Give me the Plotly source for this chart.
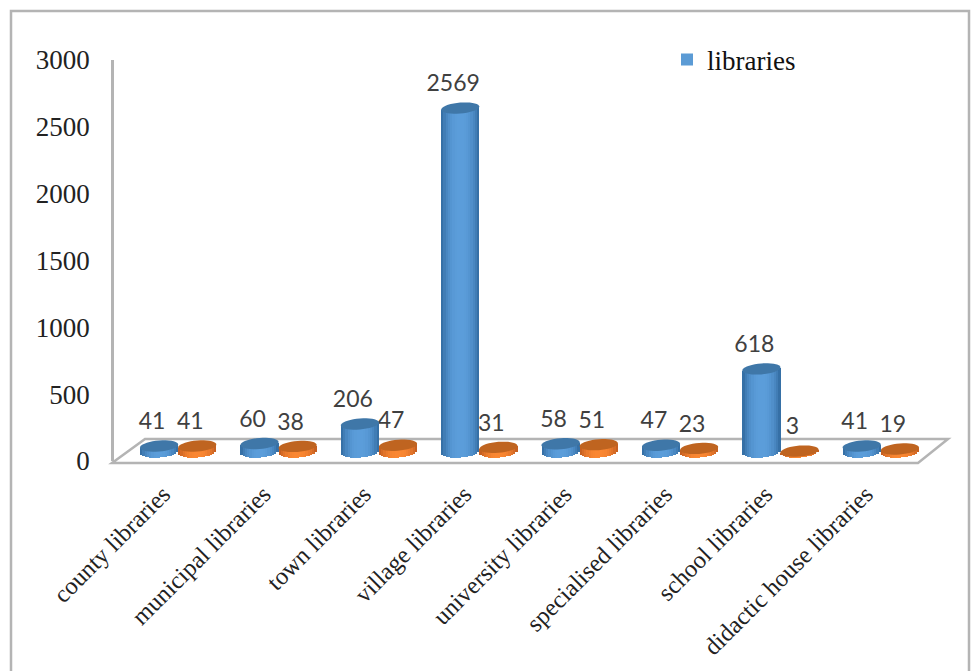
import math
import plotly.graph_objects as go

categories = ["county libraries", "municipal libraries", "town libraries", "village libraries",
              "university libraries", "specialised libraries", "school libraries", "didactic house libraries"]
libraries = [41, 60, 206, 2569, 58, 47, 618, 41]
second_series = [41, 38, 47, 31, 51, 23, 3, 19]
y_ticks = [0, 500, 1000, 1500, 2000, 2500, 3000]

W, H = 972, 671
PX_PER_UNIT_Y = 401 / 3000
HALF = 0.19
STRIPS = 17
B = 5.5 / PX_PER_UNIT_Y    # ellipse half height, in axis units
K = 1.5 / PX_PER_UNIT_Y    # ellipse tilt, in axis units
BELOW_ZERO = 150
BASE_PX = 451.5

COS = [math.cos(2 * math.pi * i / 36) for i in range(36)]
SIN = [math.sin(2 * math.pi * i / 36) for i in range(36)]


def px(v):
    return v / W


def py(v):
    return 1 - v / H


def mix(c1, c2, t):
    return "rgb(%d,%d,%d)" % tuple(round(a + (b - a) * t) for a, b in zip(c1, c2))


def ellipse(cx, cy, fill, layer):
    pts = [(cx + HALF * COS[i], cy + B * SIN[i] + K * COS[i]) for i in range(36)]
    path = "M " + " L ".join(f"{x:.4f},{y:.2f}" for x, y in pts) + " Z"
    return dict(type="path", path=path, xref="x", yref="y2", fillcolor=fill,
                line=dict(width=0), layer=layer)


fig = go.Figure()

series = [
    ("libraries", libraries, -HALF, (91, 157, 218), (48, 105, 158), "#3f77a8", "#5b9bd5", True),
    ("second series", second_series, HALF, (250, 135, 50), (190, 90, 30), "#bf6420", "#ed7d31", False),
]

shapes = [
    dict(type="rect", xref="paper", yref="paper", x0=px(11), x1=px(969), y0=py(11), y1=py(690),
         line=dict(color="#b4b4b4", width=2.5), fillcolor="white", layer="below"),
    dict(type="path", xref="paper", yref="paper",
         path=f"M {px(112)},{py(463)} L {px(918)},{py(463)} L {px(948)},{py(439)} L {px(145)},{py(439)} Z",
         line=dict(color="#b4b4b4", width=2.5), fillcolor="white", layer="below"),
]

label_x = []
label_y = []
label_t = []
for name, vals, off, *_ in series:
    for i, v in enumerate(vals):
        label_x.append(i + off - 0.07)
        label_y.append(v + 32 / PX_PER_UNIT_Y)
        label_t.append(str(v))

fig.add_trace(go.Scatter(x=label_x, y=label_y, text=label_t, mode="text", xaxis="x", yaxis="y",
                         textposition="middle center", showlegend=False, hoverinfo="skip",
                         textfont=dict(family="Lato", size=23, color="#404040")))

for name, vals, off, light, dark, top, solid, legend in series:
    xs = [i + off for i in range(len(vals))]
    fig.add_trace(go.Bar(x=xs, y=vals, name=name, width=2 * HALF * 0.8,
                         marker=dict(color=solid, line=dict(width=0)),
                         xaxis="x", yaxis="y2", showlegend=legend))
    w = 2 * HALF / STRIPS
    for s in range(STRIPS):
        pos = -HALF + s * w
        u = (s + 0.5) / STRIPS * 2 - 1
        t = abs(u) ** 2.5
        lower = -B * math.sqrt(1 - u * u) + K * u
        upper = K * u
        fig.add_trace(go.Bar(x=xs, y=[v + upper - lower for v in vals], base=lower,
                             width=w * 1.05, offset=pos,
                             marker=dict(color=mix(light, dark, t), line=dict(width=0)),
                             xaxis="x", yaxis="y2", showlegend=False, hoverinfo="skip"))
    for x, v in zip(xs, vals):
        shapes.append(ellipse(x, v, top, "above"))

fig.update_layout(
    width=W, height=H, margin=dict(l=0, r=0, t=0, b=0), autosize=False,
    paper_bgcolor="white", plot_bgcolor="rgba(0,0,0,0)",
    barmode="overlay", shapes=shapes, bargap=0,
    showlegend=True,
    legend=dict(x=px(667), y=py(60), xanchor="left", yanchor="middle", bgcolor="rgba(0,0,0,0)",
                font=dict(family="Liberation Serif", size=27, color="#111111"), itemwidth=30),
    xaxis=dict(domain=[px(128), px(931)], range=[-0.5, 7.5], tickmode="array",
               tickvals=list(range(8)), ticktext=categories, tickangle=-45, automargin=False,
               showgrid=False, zeroline=False, showline=False, ticks="", anchor="y",
               ticklabelstandoff=13, ticklabelshift=-15,
               tickfont=dict(family="Liberation Serif", size=24.5, color="#222222")),
    yaxis=dict(domain=[py(461), py(60)], range=[0, 3000], tickmode="array", tickvals=y_ticks,
               anchor="free", position=px(112), side="left", showgrid=False, zeroline=False,
               automargin=False,
               showline=True, linecolor="#b4b4b4", linewidth=2.5, ticks="", ticklabelstandoff=16,
               tickfont=dict(family="Liberation Serif", size=27, color="#222222")),
    yaxis2=dict(domain=[py(BASE_PX + BELOW_ZERO * PX_PER_UNIT_Y), py(BASE_PX - 401)], range=[-BELOW_ZERO, 3000],
                anchor="x", visible=False, automargin=False),
)

fig.write_html("out.html", post_script="document.body.style.margin='0';",
               config={"displayModeBar": False})
